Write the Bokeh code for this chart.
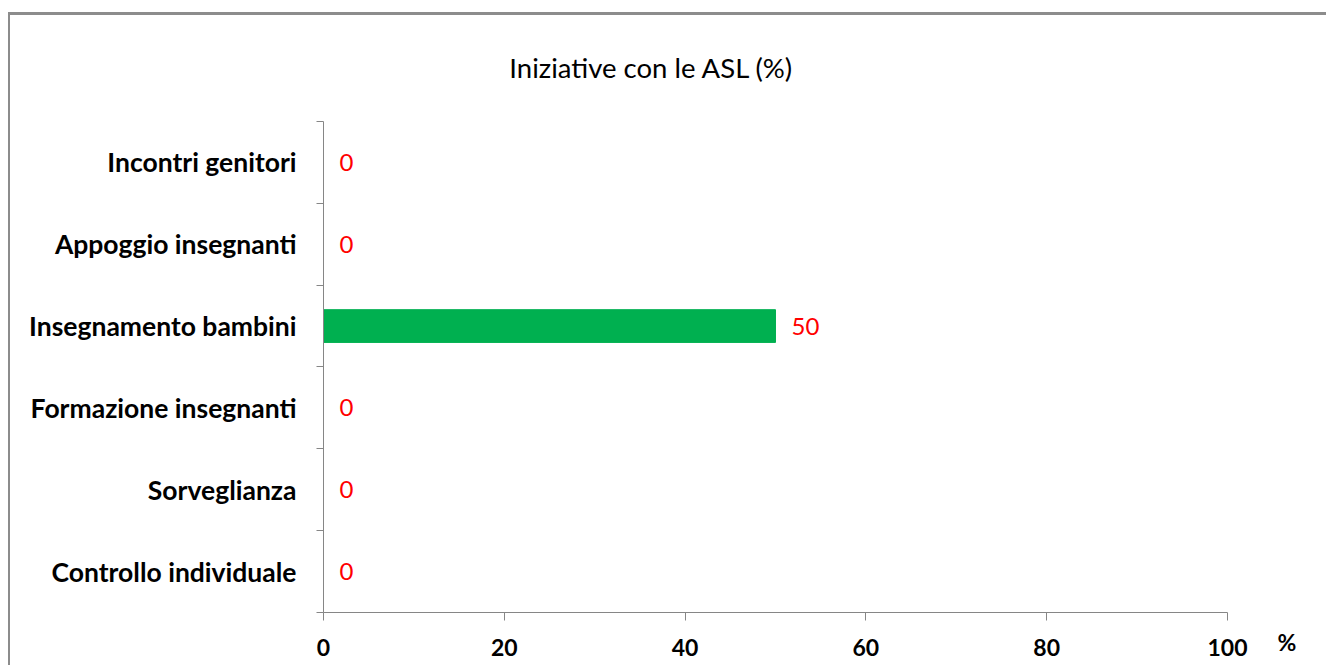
from bokeh.plotting import figure
from bokeh.models import FixedTicker, LabelSet, Label, ColumnDataSource, Range1d
from bokeh.core.properties import value
from bokeh.embed import file_html
from bokeh.resources import INLINE

categories = ["Controllo individuale", "Sorveglianza", "Formazione insegnanti",
              "Insegnamento bambini", "Appoggio insegnanti", "Incontri genitori"]
values = [0, 0, 0, 50, 0, 0]
x_ticks = [0, 20, 40, 60, 80, 100]
title_text = "Iniziative con le ASL (%)"
unit_text = "%"

FONT = "Lato"
n = len(categories)
centers = [i + 0.5 for i in range(n)]
src = ColumnDataSource(dict(y=centers, v=values, lab=[str(v) for v in values]))

# The frame covers the whole figure; both axes are pinned at 0 inside it so that
# the title and the "%" unit label can be placed freely.
p = figure(width=1318, height=653, output_backend="svg", toolbar_location=None,
           x_range=Range1d(-33.52, 110.07), y_range=Range1d(-0.624, 7.234),
           min_border_left=10, min_border_right=10, min_border_top=5,
           min_border_bottom=5)
p.styles = {"border-top": "3px solid #8c8c8c", "border-left": "2px solid #8c8c8c",
            "margin-top": "12px", "margin-left": "8px"}
p.outline_line_color = None
p.grid.visible = False

p.hbar(y="y", right="v", left=0, height=0.4, source=src, color="#00B050")

p.add_layout(LabelSet(x="v", y="y", text="lab", source=src, x_offset=16,
                      text_baseline="middle", text_color="#FF0000",
                      text_font=value(FONT), text_font_size="24px"))

ax = p.xaxis[0]
ax.fixed_location = 0
ax.bounds = (0, 100)
ax.ticker = FixedTicker(ticks=x_ticks)
ax.major_tick_in = 0
ax.major_tick_out = 8
ax.minor_tick_out = 0
ax.minor_tick_in = 0
ax.axis_line_color = "#868686"
ax.major_tick_line_color = "#868686"
ax.major_label_text_font = FONT
ax.major_label_text_font_style = "bold"
ax.major_label_text_font_size = "23px"
ax.major_label_text_color = "#000000"
ax.major_label_standoff = 19

ay = p.yaxis[0]
ay.fixed_location = 0
ay.bounds = (0, n)
ay.ticker = FixedTicker(ticks=centers, minor_ticks=list(range(n + 1)))
ay.major_label_overrides = {c: t for c, t in zip(centers, categories)}
ay.major_tick_in = 0
ay.major_tick_out = 0
ay.minor_tick_in = 0
ay.minor_tick_out = 7
ay.axis_line_color = "#868686"
ay.minor_tick_line_color = "#868686"
ay.major_label_text_font = FONT
ay.major_label_text_font_style = "bold"
ay.major_label_text_font_size = "26.5px"
ay.major_label_text_color = "#000000"
ay.major_label_standoff = 20

# chart title
p.add_layout(Label(x=36.3, y=n + 0.66, text=title_text, text_align="center",
                   text_baseline="alphabetic", text_font=FONT,
                   text_font_size="27.5px", text_color="#000000"))

# unit label of the value axis
p.add_layout(Label(x=x_ticks[-1], y=0, text=unit_text, x_offset=50, y_offset=-30,
                   text_baseline="middle", text_font=FONT, text_font_style="bold",
                   text_font_size="23px", text_color="#000000"))

open("out.html", "w").write(file_html(p, INLINE))
